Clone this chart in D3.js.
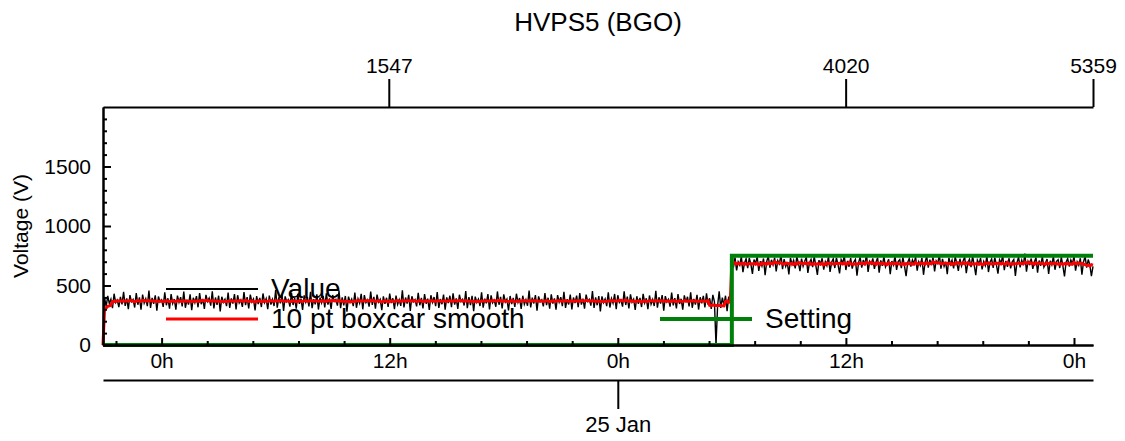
<!DOCTYPE html>
<html>
<head>
<meta charset="utf-8">
<script src="https://cdn.jsdelivr.net/npm/d3@7"></script>
<style>
  body { margin: 0; background: #fff; }
  text { font-family: "Liberation Sans", Arial, Helvetica, sans-serif; fill: #000; }
</style>
</head>
<body>
<svg id="chart" width="1125" height="441"></svg>
<script>
// readings every 5 minutes, first one at 23 Jan 20:55 (UTC)
var startTime = Date.UTC(2021, 0, 23, 20, 55);
var endTime = Date.UTC(2021, 0, 26, 1, 0);
var stepMinutes = 5;

// before the setting was raised (one reading drops to 0 around 05:10)
var valueBefore = [
  0, 398, 322, 412, 347, 385, 309, 431, 356, 377, 318, 404, 341, 446, 329, 392, 301, 419, 364, 383,
  315, 437, 338, 401, 296, 424, 352, 389, 327, 458, 311, 396, 345, 418, 288, 407, 361, 379, 320, 442,
  334, 393, 306, 428, 349, 386, 297, 415, 358, 402, 324, 449, 313, 381, 339, 426, 292, 397, 355, 410,
  317, 436, 343, 388, 304, 421, 366, 394, 330, 452, 308, 399, 337, 414, 283, 405, 359, 384, 326, 440,
  312, 391, 348, 427, 299, 418, 353, 378, 321, 445, 335, 403, 307, 423, 362, 387, 291, 411, 344, 396,
  319, 433, 357, 390, 302, 416, 340, 383, 328, 461, 314, 400, 350, 422, 286, 408, 363, 381, 323, 438,
  336, 395, 305, 429, 346, 389, 294, 417, 360, 404, 325, 447, 310, 385, 342, 425, 298, 398, 354, 413,
  316, 434, 339, 392, 303, 420, 367, 382, 331, 455, 309, 401, 333, 412, 281, 406, 358, 386, 327, 441,
  313, 388, 351, 430, 300, 419, 356, 379, 322, 448, 337, 405, 306, 424, 361, 384, 293, 409, 345, 397,
  320, 432, 352, 393, 301, 415, 341, 380, 329, 459, 315, 399, 348, 421, 287, 410, 364, 382, 324, 439,
  334, 396, 307, 427, 347, 390, 295, 418, 359, 403, 326, 444, 311, 386, 343, 423, 297, 400, 353, 414,
  318, 435, 340, 391, 304, 422, 365, 383, 332, 453, 310, 402, 336, 413, 284, 407, 357, 385, 328, 443,
  314, 389, 350, 428, 299, 417, 355, 378, 321, 450, 338, 404, 308, 425, 362, 386, 290, 412, 344, 395,
  321, 431, 358, 394, 303, 414, 342, 381, 330, 457, 316, 398, 349, 420, 289, 409, 363, 380, 325, 437,
  335, 397, 306, 426, 348, 391, 296, 419, 361, 402, 327, 446, 312, 384, 341, 424, 299, 399, 352, 415,
  317, 436, 339, 390, 305, 423, 366, 384, 331, 454, 311, 400, 334, 411, 282, 408, 356, 387, 326, 442,
  315, 390, 352, 429, 301, 418, 357, 377, 323, 451, 336, 406, 307, 426, 360, 385, 294, 410, 346, 396,
  319, 430, 354, 392, 302, 416, 343, 382, 328, 456, 314, 401, 347, 419, 288, 411, 362, 383, 322, 440,
  333, 394, 308, 428, 345, 388, 297, 417, 358, 405, 325, 443, 313, 387, 340, 422, 298, 401, 351, 413,
  316, 434, 338, 393, 304, 421, 364, 0, 330, 452, 312, 399, 335, 414, 285, 406, 355
];
// after the step
var valueAfter = [
  708, 652, 736, 627, 699, 671, 744, 612, 690, 725, 645, 731, 679, 598, 718, 686, 740, 622, 705, 664,
  727, 586, 701, 747, 649, 716, 674, 735, 618, 709, 683, 756, 638, 722, 660, 697, 593, 732, 676, 712,
  644, 739, 691, 621, 726, 662, 704, 738, 606, 693, 719, 654, 743, 670, 589, 713, 681, 729, 633, 700,
  666, 745, 614, 695, 724, 647, 733, 677, 601, 717, 688, 749, 630, 707, 658, 730, 642, 698, 720, 582,
  692, 737, 651, 714, 669, 764, 615, 703, 680, 728, 639, 696, 734, 608, 711, 665, 742, 656, 687, 721,
  596, 706, 673, 746, 631, 702, 718, 646, 737, 663, 578, 694, 727, 659, 715, 684, 741, 624, 700, 668,
  731, 590, 697, 745, 650, 717, 672, 736, 619, 708, 685, 758, 641, 723, 661, 698, 595, 733, 678, 713,
  643, 740, 689, 623, 725, 663, 705, 739, 604, 692, 721, 655, 744, 671, 587, 712, 682, 730, 635, 701,
  667, 747, 613, 696, 723, 648, 734, 676, 600, 716, 689, 750, 629, 706, 657, 729, 644, 699, 719, 581,
  693, 738, 652, 713, 670, 768, 616, 704, 679, 727, 640, 697, 735, 607, 710, 666, 743, 655, 688, 722,
  597, 707, 674, 745, 632, 703, 717, 647, 738, 662, 576, 695, 726, 660, 714, 683, 742, 625, 699, 669,
  729, 591, 698, 744, 651, 718, 673, 579, 660
];

var settingTimes = [startTime, Date.UTC(2021, 0, 25, 6, 0), endTime];
var settingValues = [0, 750, 750];

var sampleCount = 5359;
var topTicks = [1547, 4020, 5359];
var yTicks = [0, 500, 1000, 1500];
var dateTicks = [Date.UTC(2021, 0, 25)];
var dateLabels = ["25 Jan"];
var boxcar = 10;

var svg = d3.select("#chart");
var pLeft = 103, pRight = 1093, pTop = 107, pBottom = 345;

var x = d3.scaleUtc().domain([startTime, endTime]).range([pLeft, pRight]);
var xIndex = d3.scaleLinear().domain([0, sampleCount]).range([pLeft, pRight]);
var y = d3.scaleLinear().domain([0, 2000]).range([pBottom, pTop]);

function toPoints(vals, offset) {
  return vals.map(function(v, i) {
    return { t: startTime + (offset + i) * stepMinutes * 60000, v: v };
  });
}
// boxcar smoothing inside one segment (window cut at the segment ends)
function smooth(pts) {
  var h = boxcar / 2;
  return pts.map(function(p, i) {
    var w = pts.slice(Math.max(0, i - h), Math.min(pts.length, i + h));
    return { t: p.t, v: d3.mean(w, function(d) { return d.v; }) };
  });
}

var before = toPoints(valueBefore, 0);
var after = toPoints(valueAfter, valueBefore.length);
var values = before.concat(after);
var smoothed = smooth(before).concat(smooth(after));
smoothed[0] = values[0]; // first point is left as it is, like IDL's smooth
var setting = settingTimes.map(function(t, i) { return { t: t, v: settingValues[i] }; });

var line = d3.line().x(function(d) { return x(d.t); }).y(function(d) { return y(d.v); });

svg.append("path").datum(values)
  .attr("d", line).attr("fill", "none").attr("stroke", "#000").attr("stroke-width", 1.4);
svg.append("path").datum(smoothed)
  .attr("d", line).attr("fill", "none").attr("stroke", "#f00").attr("stroke-width", 3);
svg.append("path").datum(setting)
  .attr("d", line.curve(d3.curveStepAfter)).attr("fill", "none")
  .attr("stroke", "#00800a").attr("stroke-width", 4);

// legend
var legend = [
  { label: "Value", color: "#000", w: 2, x: 166, y: 289 },
  { label: "10 pt boxcar smooth", color: "#f00", w: 3, x: 166, y: 319 },
  { label: "Setting", color: "#00800a", w: 4, x: 660, y: 319 }
];
legend.forEach(function(l) {
  svg.append("line").attr("x1", l.x).attr("x2", l.x + 92).attr("y1", l.y).attr("y2", l.y)
    .attr("stroke", l.color).attr("stroke-width", l.w);
  svg.append("text").attr("x", l.x + 105).attr("y", l.y + 9)
    .style("font-size", "28px").text(l.label);
});

// axes
function styleAxis(g) {
  g.selectAll(".domain").attr("stroke", "#000").attr("stroke-width", 2);
  g.selectAll(".tick line").attr("stroke", "#000").attr("stroke-width", 2);
  g.selectAll("text").style("font-size", "21px").attr("font-family", null);
}

var majorHours = d3.utcHour.every(12).range(startTime, endTime + 1);
var minorHours = d3.utcMillisecond.every(144 * 60000).range(startTime, endTime + 1)
  .filter(function(d) { return d.getUTCHours() % 12 !== 0 || d.getUTCMinutes() !== 0; });

svg.append("g").attr("transform", "translate(0," + pBottom + ")")
  .call(d3.axisBottom(x).tickValues(minorHours).tickSizeInner(-4).tickSizeOuter(0).tickFormat(""))
  .call(styleAxis);
svg.append("g").attr("transform", "translate(0," + pBottom + ")")
  .call(d3.axisBottom(x).tickValues(majorHours).tickSizeInner(-7).tickSizeOuter(0).tickPadding(8)
    .tickFormat(function(d) { return d.getUTCHours() + "h"; }))
  .call(styleAxis);

svg.append("g").attr("transform", "translate(0,380)")
  .call(d3.axisBottom(x).tickValues(dateTicks.map(function(d) { return new Date(d); }))
    .tickSizeInner(29).tickSizeOuter(0).tickPadding(7)
    .tickFormat(function(d, i) { return dateLabels[i]; }))
  .call(styleAxis)
  .call(function(g) { g.selectAll("text").style("font-size", "22px"); });

svg.append("g").attr("transform", "translate(" + pLeft + ",0)")
  .call(d3.axisLeft(y).tickValues(d3.range(0, 2001, 100).filter(function(v) { return v % 500; }))
    .tickSizeInner(-4).tickSizeOuter(0).tickFormat(""))
  .call(styleAxis);
svg.append("g").attr("transform", "translate(" + pLeft + ",0)")
  .call(d3.axisLeft(y).tickValues(yTicks).tickSizeInner(-8).tickSizeOuter(0).tickPadding(12)
    .tickFormat(d3.format("d")))
  .call(styleAxis);

svg.append("g").attr("transform", "translate(0," + pTop + ")")
  .call(d3.axisTop(xIndex).tickValues(topTicks).tickSizeInner(28).tickSizeOuter(0).tickPadding(6)
    .tickFormat(d3.format("d")))
  .call(styleAxis);

svg.append("text")
  .attr("transform", "translate(28," + ((pTop + pBottom) / 2) + ") rotate(-90)")
  .attr("text-anchor", "middle")
  .style("font-size", "21px")
  .text("Voltage (V)");

svg.append("text")
  .attr("x", (pLeft + pRight) / 2).attr("y", 31)
  .attr("text-anchor", "middle")
  .style("font-size", "26px")
  .text("HVPS5 (BGO)");
</script>
</body>
</html>
